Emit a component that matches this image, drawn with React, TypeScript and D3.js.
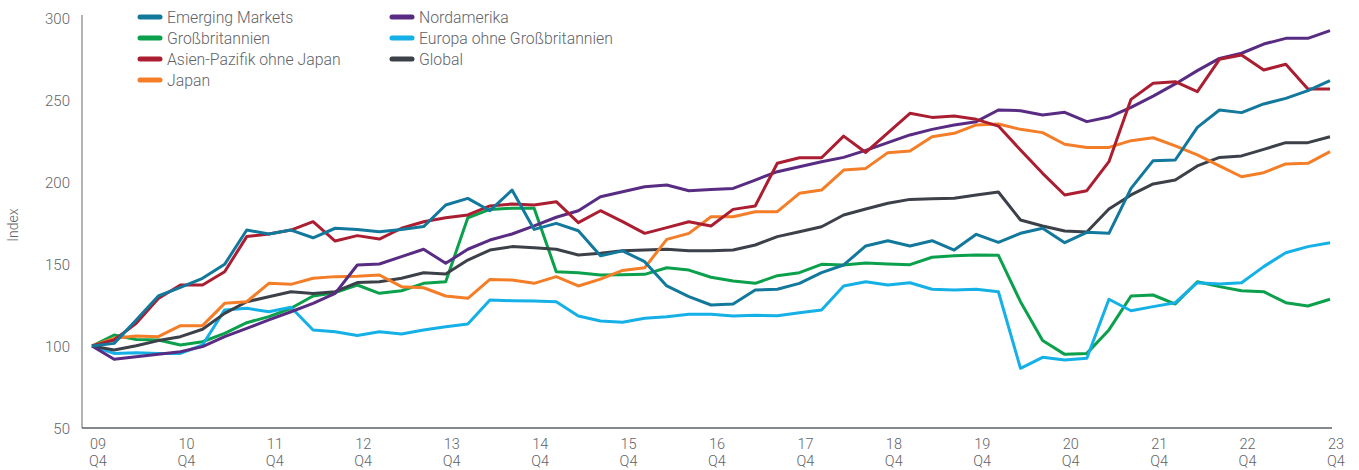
import React from "react";
import * as d3 from "d3";

const W = 1359;
const H = 470;

// quarters 09 Q4 .. 23 Q4 (57 points), year labels every 4th quarter
const yearLabels = ["09", "10", "11", "12", "13", "14", "15", "16", "17", "18", "19", "20", "21", "22", "23"];
const yTicks = [50, 100, 150, 200, 250, 300];

const emergingMarkets = [
  100, 101.6, 115.9, 130.5, 135.8, 141.3, 149.8, 170.7, 168.3, 170.7, 166, 171.8, 171,
  169.7, 171.1, 172.8, 186, 190, 182.5, 195.1, 171.1, 174.8, 170.3, 155, 158,
  151.4, 136.6, 130.1, 125, 125.6, 134.1, 134.6, 138.2, 144.7, 149.4, 161,
  164.2, 161, 164.2, 158.5, 168.1, 163.2, 168.7, 171.8, 163, 169.3, 168.7,
  196.1, 213, 213.4, 233.3, 243.9, 242.3, 247.6, 251, 255.7, 261.8,
];
const nordamerika = [
  100, 91.9, 93.5, 94.9, 96.5, 99.6, 105.7, 110.8, 115.9, 120.9, 126, 132.1, 149.4,
  150, 154.5, 159, 150.4, 159, 164.6, 168.3, 173.2, 178.5, 182.5, 191, 194.1,
  197.1, 198.2, 194.7, 195.5, 196.1, 201.2, 206.3, 209.3, 212.4, 215, 219.3,
  224, 228.7, 232.1, 234.8, 236.8, 243.9, 243.5, 240.9, 242.5, 236.8, 239.6,
  245.5, 252.4, 259.8, 267.9, 275.4, 278.5, 284.1, 287.6, 287.6, 292.3,
];
const grossbritannien = [
  100, 106.7, 104, 103.7, 100.6, 102.6, 107.7, 114.2, 117.9, 123, 130.5, 132.5, 137.2,
  132.1, 133.7, 138.2, 139.2, 178.2, 183.3, 184, 184, 145.3, 144.7, 143.3, 143.5,
  143.7, 147.7, 146.3, 141.9, 139.6, 138.2, 142.9, 144.7, 149.8, 149.4, 150.6,
  150, 149.6, 154.1, 155.1, 155.5, 155.3, 127, 103.3, 94.9, 95.5, 109.8,
  130.5, 131.1, 125.6, 139.2, 136.2, 133.7, 133.1, 126.4, 124.4, 128.5,
];
const europaOhneGB = [
  100, 95.5, 95.9, 95.5, 95.5, 100.6, 122, 123, 120.9, 123.6, 109.8, 108.7, 106.4,
  108.7, 107.3, 109.8, 111.8, 113.4, 128, 127.6, 127.4, 127, 118.3, 115.2, 114.5,
  116.9, 117.9, 119.3, 119.3, 118.3, 118.7, 118.5, 120.3, 122, 136.6, 139.2,
  137.2, 138.6, 134.6, 134.1, 134.6, 133.1, 86.4, 93.1, 91.5, 92.5, 128.5,
  121.5, 124, 126.4, 138.6, 137.8, 138.6, 148.4, 156.9, 160.6, 163,
];
const asienPazifik = [
  100, 103.7, 113.8, 129, 137.2, 137.2, 145.3, 166.7, 168.3, 170.7, 175.8, 164, 167.3,
  165.2, 171.8, 175.8, 178.2, 179.9, 185.4, 186.6, 186, 188, 175.2, 182.5, 175.8,
  168.7, 172.2, 175.8, 173.2, 183.3, 185.4, 211.4, 214.8, 214.8, 228, 218,
  230, 241.9, 239.4, 240.2, 238.2, 234.1, 219.5, 205.3, 192.1, 194.7, 212.4,
  250.4, 260.2, 261.2, 255.1, 274.8, 277.4, 268.3, 271.8, 256.7, 256.7,
];
const japan = [
  100, 104.7, 106.1, 105.7, 112.4, 112.4, 126, 127, 138.2, 137.6, 141.3, 142.3, 142.5,
  143.3, 136.2, 135.5, 130.5, 129.1, 140.6, 140.2, 138.2, 142.3, 136.6, 140.8, 146.1,
  147.7, 165, 168.7, 178.8, 178.8, 181.9, 181.9, 193.1, 195.1, 207.3, 208.3,
  217.9, 218.9, 227.6, 229.7, 234.8, 235.4, 232.1, 230.1, 223, 221.1, 221.1,
  225.2, 227, 222, 216.5, 209.8, 203.2, 205.7, 211, 211.4, 218.5,
];
const global = [
  100, 97.6, 100.2, 103.3, 105.7, 110.2, 119.9, 127, 130, 133.1, 132, 133.1, 138.7,
  139.2, 141.3, 144.7, 143.9, 152.4, 158.5, 160.6, 159.9, 159, 155.5, 156.5, 158.1,
  158.5, 159, 158.1, 158.1, 158.5, 161.6, 166.7, 169.7, 172.7, 179.9, 183.5,
  187, 189.4, 189.8, 190.1, 192.1, 193.9, 176.8, 173.2, 170.1, 169.5, 183.5,
  192.1, 198.8, 201.2, 209.8, 215, 215.9, 219.9, 224, 224, 227.6,
];

const series = [
  { name: "Emerging Markets", values: emergingMarkets, color: "#12789c" },
  { name: "Nordamerika", values: nordamerika, color: "#582c83" },
  { name: "Großbritannien", values: grossbritannien, color: "#0ba04b" },
  { name: "Europa ohne Großbritannien", values: europaOhneGB, color: "#14b0e6" },
  { name: "Asien-Pazifik ohne Japan", values: asienPazifik, color: "#ab1e32" },
  { name: "Global", values: global, color: "#3c4049" },
  { name: "Japan", values: japan, color: "#f47e28" },
];

// draw order (bottom to top), roughly as in the picture
const drawOrder = ["Großbritannien", "Europa ohne Großbritannien", "Global", "Japan", "Nordamerika", "Asien-Pazifik ohne Japan", "Emerging Markets"];

const FONT = "Roboto, 'DejaVu Sans', sans-serif";
const TEXT = "#5f6368";

export default function App() {
  const x = d3.scaleLinear().domain([0, 56]).range([92, 1330]);
  const y = d3.scaleLinear().domain([50, 300]).range([428, 18]);
  const line = d3
    .line<number>()
    .x((d, i) => x(i))
    .y((d) => y(d));

  const ordered = drawOrder.map((n) => series.find((s) => s.name === n)!);

  return (
    <svg
      width={W}
      height={H}
      style={{ position: "absolute", left: 0, top: 0, background: "#fff" }}
      fontFamily={FONT}
    >
      {/* axes */}
      <line x1={82} x2={82} y1={y(300) - 3} y2={y(50)} stroke="#8a8d91" strokeWidth={1.3} />
      <line x1={82} x2={1332} y1={y(50)} y2={y(50)} stroke="#5b5f66" strokeWidth={1.3} />

      {yTicks.map((t) => (
        <text key={t} x={70} y={y(t) + 5.5} textAnchor="end" fontSize={15} fontWeight={300} fill={TEXT}>
          {t}
        </text>
      ))}

      {yearLabels.map((lab, k) => (
        <g key={lab}>
          <text x={x(k * 4) - 2} y={449} fontSize={14.5} fontWeight={300} fill={TEXT}>
            {lab}
          </text>
          <text x={x(k * 4) - 3} y={466} fontSize={14.5} fontWeight={300} fill={TEXT}>
            Q4
          </text>
        </g>
      ))}

      <text
        transform={`translate(18,225) rotate(-90)`}
        textAnchor="middle"
        fontSize={14}
        fontWeight={300}
        fill={TEXT}
      >
        Index
      </text>

      {ordered.map((s) => (
        <path
          key={s.name}
          d={line(s.values) || ""}
          fill="none"
          stroke={s.color}
          strokeWidth={3}
          strokeLinejoin="round"
        />
      ))}

      {/* legend */}
      {series.map((s, i) => {
        const col = i % 2;
        const row = Math.floor(i / 2);
        const lx = col === 0 ? 140 : 392;
        const ly = 17 + row * 21;
        return (
          <g key={s.name}>
            <line x1={lx} x2={lx + 20} y1={ly} y2={ly} stroke={s.color} strokeWidth={5} strokeLinecap="round" />
            <text x={lx + 27} y={ly + 5.5} fontSize={15.8} fontWeight={300} fill={TEXT}>
              {s.name}
            </text>
          </g>
        );
      })}
    </svg>
  );
}
